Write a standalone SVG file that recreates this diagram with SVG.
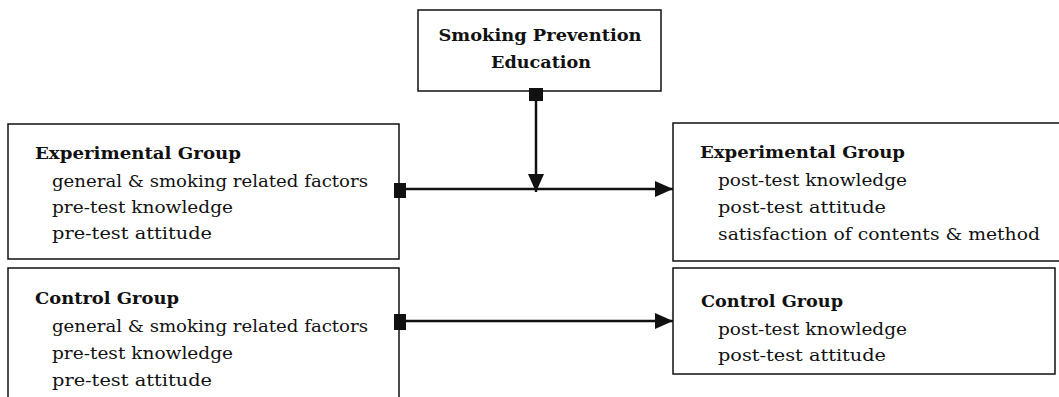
<svg xmlns="http://www.w3.org/2000/svg" width="1059" height="397" viewBox="0 0 1059 397">
<defs>
<style>
.box{fill:#fff;stroke:#111;stroke-width:1.5}
.t{font-family:"DejaVu Serif","Liberation Serif",serif;font-size:17px;fill:#111}
.b{font-weight:bold}
.ln{stroke:#111;stroke-width:2.5;fill:none}
.sq{fill:#111}
</style>
<marker id="ah" markerUnits="userSpaceOnUse" markerWidth="20" markerHeight="16" refX="18" refY="8" orient="auto">
<path d="M0,0 L18,8 L0,16 Z" fill="#111"/>
</marker>
</defs>
<rect width="1059" height="397" fill="#fff"/>
<g id="node-education">
<rect class="box" x="418" y="10" width="243" height="81"/>
<text class="t b" x="540" y="41" text-anchor="middle" textLength="203" lengthAdjust="spacingAndGlyphs">Smoking Prevention</text>
<text class="t b" x="541" y="68" text-anchor="middle" textLength="100" lengthAdjust="spacingAndGlyphs">Education</text>
</g>
<g id="node-exp-pre">
<rect class="box" x="8" y="124" width="391" height="135"/>
<text class="t b" x="35" y="159" textLength="206" lengthAdjust="spacingAndGlyphs">Experimental Group</text>
<text class="t" x="52" y="187" textLength="316" lengthAdjust="spacingAndGlyphs">general &amp; smoking related factors</text>
<text class="t" x="52" y="213" textLength="181" lengthAdjust="spacingAndGlyphs">pre-test knowledge</text>
<text class="t" x="52" y="239" textLength="160" lengthAdjust="spacingAndGlyphs">pre-test attitude</text>
</g>
<g id="node-ctrl-pre">
<rect class="box" x="8" y="268" width="391" height="140"/>
<text class="t b" x="35" y="304" textLength="144" lengthAdjust="spacingAndGlyphs">Control Group</text>
<text class="t" x="52" y="332" textLength="316" lengthAdjust="spacingAndGlyphs">general &amp; smoking related factors</text>
<text class="t" x="52" y="359" textLength="181" lengthAdjust="spacingAndGlyphs">pre-test knowledge</text>
<text class="t" x="52" y="386" textLength="160" lengthAdjust="spacingAndGlyphs">pre-test attitude</text>
</g>
<g id="node-exp-post">
<rect class="box" x="673" y="123" width="400" height="138"/>
<text class="t b" x="700" y="158" textLength="205" lengthAdjust="spacingAndGlyphs">Experimental Group</text>
<text class="t" x="718" y="186" textLength="189" lengthAdjust="spacingAndGlyphs">post-test knowledge</text>
<text class="t" x="718" y="213" textLength="168" lengthAdjust="spacingAndGlyphs">post-test attitude</text>
<text class="t" x="718" y="240" textLength="322" lengthAdjust="spacingAndGlyphs">satisfaction of contents &amp; method</text>
</g>
<g id="node-ctrl-post">
<rect class="box" x="673" y="268" width="382" height="106"/>
<text class="t b" x="701" y="307" textLength="142" lengthAdjust="spacingAndGlyphs">Control Group</text>
<text class="t" x="718" y="335" textLength="189" lengthAdjust="spacingAndGlyphs">post-test knowledge</text>
<text class="t" x="718" y="361" textLength="168" lengthAdjust="spacingAndGlyphs">post-test attitude</text>
</g>
<g id="connectors">
<line class="ln" x1="400" y1="189" x2="673" y2="189" marker-end="url(#ah)"/>
<line class="ln" x1="400" y1="321" x2="673" y2="321" marker-end="url(#ah)"/>
<line class="ln" x1="536" y1="95" x2="536" y2="192" marker-end="url(#ah)"/>
<rect class="sq" x="529" y="88" width="14" height="13"/>
<rect class="sq" x="394" y="183" width="12" height="15"/>
<rect class="sq" x="394" y="314" width="12" height="16"/>
</g>
</svg>
